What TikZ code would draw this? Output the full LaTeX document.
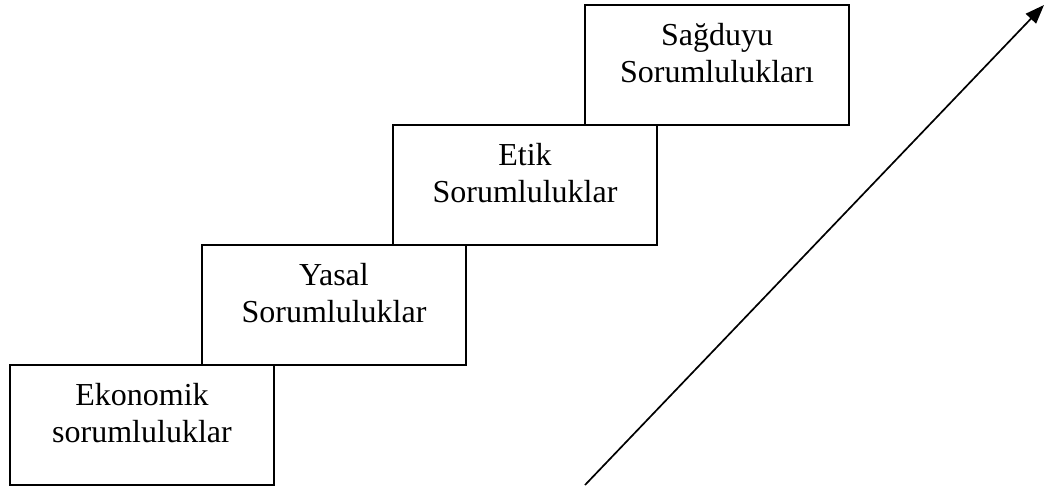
\documentclass[tikz,border=0pt]{standalone}
\usepackage{fontspec}
\setmainfont{Liberation Serif}
\usetikzlibrary{arrows.meta}
\begin{document}
\begin{tikzpicture}[x=1pt,y=-1pt,
  stepbox/.style={draw=black, line width=1.7pt, minimum width=264pt, minimum height=120pt, inner sep=0pt},
  linetext/.style={anchor=base, inner sep=0pt, font=\fontsize{32}{36.8}\selectfont},
  rise/.style={draw=black, line width=1.7pt, -{Triangle[length=19pt,width=14pt]}}]
  \useasboundingbox (0,0) rectangle (1047,488);
  % staircase of responsibility levels
  \node[stepbox] (b1) at (142,425) {};
  \node[stepbox] (b2) at (334,305) {};
  \node[stepbox] (b3) at (525,185) {};
  \node[stepbox] (b4) at (717,65) {};
  % two lines of text per step
  \node[linetext] (b1a) at ([yshift=-41.5pt]b1.north) {Ekonomik};
  \node[linetext] (b1b) at ([yshift=-78pt]b1.north) {sorumluluklar};
  \node[linetext] (b2a) at ([yshift=-41.5pt]b2.north) {Yasal};
  \node[linetext] (b2b) at ([yshift=-78pt]b2.north) {Sorumluluklar};
  \node[linetext] (b3a) at ([yshift=-41.5pt]b3.north) {Etik};
  \node[linetext] (b3b) at ([yshift=-78pt]b3.north) {Sorumluluklar};
  \node[linetext] (b4a) at ([yshift=-41.5pt]b4.north) {Sağduyu};
  \node[linetext] (b4b) at ([yshift=-78pt]b4.north) {Sorumlulukları};
  % rising arrow
  \coordinate (a0) at (585,485);
  \coordinate (a1) at (1044,5);
  \draw[rise] (a0) -- (a1);
\end{tikzpicture}
\end{document}
